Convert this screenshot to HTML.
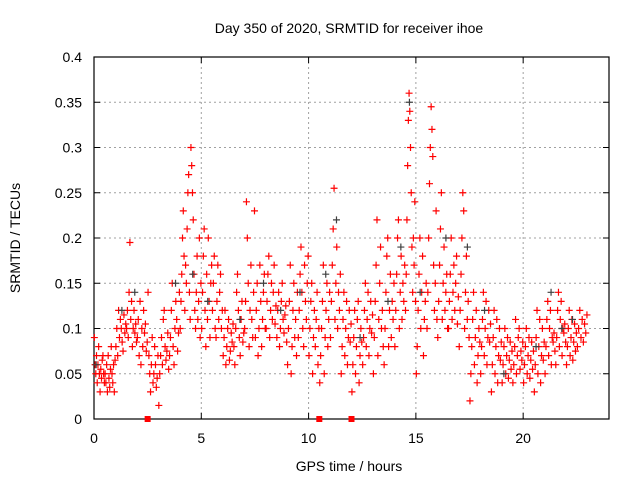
<!DOCTYPE html>
<html><head><meta charset="utf-8">
<style>
body{margin:0;background:#fff;}
svg{display:block;font-family:"Liberation Sans",sans-serif;}
</style></head>
<body>
<svg id="chart" width="640" height="480" viewBox="0 0 640 480">
<g id="grid"></g>
<g id="axes"></g>
<g id="marks"></g>
<text x="349" y="33" font-size="14" text-anchor="middle" fill="#000">Day 350 of 2020, SRMTID for receiver ihoe</text>
<text x="349" y="471" font-size="14" text-anchor="middle" fill="#000">GPS time / hours</text>
<text transform="translate(20,238) rotate(-90)" font-size="14" text-anchor="middle" fill="#000">SRMTID / TECUs</text>
</svg>
<script>
const xTicks=[0,5,10,15,20];
const yTicks=[0,0.05,0.1,0.15,0.2,0.25,0.3,0.35,0.4];
const yTickLabels=["0","0.05","0.1","0.15","0.2","0.25","0.3","0.35","0.4"];
const binStarts=[0,0.5,1,1.5,2,2.5,3,3.5,4,4.5,5,5.5,6,6.5,7,7.5,8,8.5,9,9.5,10,10.5,11,11.5,12,12.5,13,13.5,14,14.5,15,15.5,16,16.5,17,17.5,18,18.5,19,19.5,20,20.5,21,21.5,22,22.5];
const redVals=[
[0.09,0.06,0.05,0.07,0.04,0.06,0.08,0.05,0.03,0.055,0.045,0.065,0.07,0.05,0.04],
[0.05,0.04,0.06,0.03,0.07,0.045,0.035,0.055,0.08,0.05,0.04,0.06,0.03,0.065],
[0.08,0.1,0.07,0.12,0.09,0.11,0.1,0.085,0.075,0.115,0.095,0.105],
[0.1,0.12,0.09,0.14,0.195,0.11,0.13,0.08,0.1,0.12,0.095,0.105,0.085],
[0.09,0.11,0.07,0.13,0.06,0.1,0.08,0.12,0.095,0.105,0.075,0.085],
[0.14,0.07,0.05,0.03,0.06,0.09,0.04,0.05,0.08,0.06,0.035,0.045,0.07],
[0.015,0.05,0.07,0.09,0.06,0.11,0.12,0.08,0.065,0.075,0.095,0.055],
[0.07,0.09,0.12,0.15,0.08,0.06,0.1,0.13,0.11,0.075,0.095,0.14],
[0.1,0.13,0.16,0.2,0.23,0.18,0.12,0.17,0.15,0.21,0.25,0.27,0.14,0.11],
[0.3,0.28,0.25,0.22,0.16,0.12,0.1,0.14,0.18,0.11,0.13,0.2,0.09,0.15],
[0.1,0.14,0.18,0.21,0.12,0.08,0.16,0.11,0.2,0.13,0.09,0.15,0.17],
[0.12,0.15,0.18,0.1,0.09,0.13,0.17,0.11,0.14,0.16,0.1,0.12],
[0.07,0.09,0.12,0.06,0.08,0.1,0.11,0.065,0.075,0.095,0.085,0.105],
[0.08,0.06,0.1,0.14,0.16,0.12,0.09,0.07,0.11,0.13,0.085,0.095],
[0.1,0.13,0.24,0.2,0.15,0.08,0.12,0.17,0.11,0.09,0.14,0.23],
[0.09,0.12,0.15,0.07,0.1,0.17,0.13,0.08,0.11,0.14,0.16,0.1],
[0.1,0.13,0.16,0.18,0.09,0.12,0.15,0.11,0.14,0.17,0.105,0.125],
[0.09,0.12,0.14,0.08,0.1,0.13,0.15,0.11,0.095,0.115,0.125,0.085],
[0.06,0.1,0.13,0.17,0.05,0.08,0.12,0.15,0.09,0.11,0.07,0.14],
[0.09,0.12,0.16,0.19,0.14,0.1,0.08,0.17,0.13,0.11,0.15,0.18],
[0.07,0.1,0.13,0.15,0.05,0.09,0.12,0.08,0.11,0.14,0.06,0.1],
[0.04,0.07,0.1,0.13,0.17,0.05,0.09,0.12,0.15,0.08,0.11,0.14],
[0.09,0.13,0.17,0.21,0.255,0.11,0.15,0.19,0.1,0.14,0.12,0.16],
[0.05,0.08,0.11,0.14,0.07,0.1,0.13,0.06,0.09,0.12,0.085,0.105],
[0.03,0.06,0.09,0.12,0.05,0.08,0.11,0.13,0.04,0.07,0.1,0.085],
[0.06,0.09,0.12,0.15,0.08,0.11,0.14,0.07,0.1,0.13,0.095,0.115],
[0.05,0.09,0.13,0.17,0.22,0.07,0.11,0.15,0.19,0.1,0.12,0.08],
[0.06,0.1,0.14,0.18,0.2,0.08,0.12,0.16,0.09,0.13,0.11,0.15],
[0.08,0.12,0.16,0.2,0.22,0.1,0.14,0.18,0.11,0.15,0.13,0.17],
[0.12,0.16,0.22,0.28,0.33,0.36,0.34,0.3,0.25,0.19,0.14,0.2,0.17,0.24,0.13],
[0.05,0.08,0.12,0.16,0.2,0.1,0.14,0.18,0.07,0.11,0.13,0.15],
[0.1,0.14,0.2,0.26,0.3,0.345,0.32,0.29,0.17,0.12,0.15,0.23,0.11],
[0.09,0.13,0.17,0.21,0.25,0.11,0.15,0.19,0.12,0.14,0.16,0.1],
[0.1,0.13,0.16,0.2,0.11,0.14,0.17,0.12,0.15,0.18,0.105,0.135],
[0.08,0.12,0.16,0.2,0.25,0.23,0.1,0.14,0.18,0.11,0.13,0.09],
[0.02,0.05,0.08,0.11,0.14,0.06,0.09,0.12,0.04,0.07,0.1,0.085],
[0.05,0.08,0.11,0.14,0.07,0.1,0.13,0.06,0.09,0.12,0.085,0.105],
[0.03,0.06,0.09,0.12,0.05,0.08,0.11,0.04,0.07,0.1,0.065,0.085],
[0.04,0.06,0.08,0.1,0.05,0.07,0.09,0.045,0.065,0.085,0.055,0.075],
[0.04,0.06,0.08,0.11,0.05,0.07,0.09,0.1,0.055,0.075,0.065,0.085],
[0.04,0.06,0.08,0.1,0.05,0.07,0.09,0.045,0.065,0.085,0.055,0.075],
[0.03,0.06,0.09,0.12,0.05,0.08,0.11,0.04,0.07,0.1,0.065,0.085],
[0.05,0.08,0.11,0.13,0.07,0.1,0.12,0.06,0.09,0.085,0.095,0.075],
[0.06,0.09,0.12,0.14,0.08,0.11,0.13,0.07,0.1,0.095,0.105,0.085],
[0.06,0.08,0.1,0.12,0.07,0.09,0.11,0.065,0.085,0.105,0.075,0.095],
[0.08,0.1,0.12,0.09,0.11,0.085,0.105,0.095,0.115]
];
const greyTimes=[0.1,1.3,1.9,3.8,4.6,5.3,6.8,7.9,8.7,9.6,10.8,11.3,12.4,13.7,14.3,14.7,15.2,16.4,17.4,18.2,19.1,20.6,21.3,21.8,22.3];
const greyVals=[0.06,0.12,0.14,0.15,0.16,0.13,0.11,0.15,0.12,0.14,0.16,0.22,0.09,0.13,0.19,0.35,0.14,0.2,0.19,0.12,0.05,0.08,0.14,0.1,0.11];
const flagTimes=[2.5,10.5,12];

const L=94,R=609,T=57,B=419,XMAX=24,YMAX=0.4;
const xs=t=>L+(R-L)*t/XMAX;
const ys=v=>B-(B-T)*v/YMAX;
const NS="http://www.w3.org/2000/svg";
function mk(tag,attrs,parent){const e=document.createElementNS(NS,tag);for(const k in attrs)e.setAttribute(k,attrs[k]);parent.appendChild(e);return e;}
const grid=document.getElementById('grid'),axes=document.getElementById('axes'),marks=document.getElementById('marks');

xTicks.forEach((t,i)=>{
  const x=xs(t);
  if(t>0){const g=mk('line',{x1:x,x2:x,y1:T,y2:B,stroke:'#a0a0a0','stroke-dasharray':'2,3'},grid);
  
  }
  mk('line',{x1:x,x2:x,y1:B,y2:B-6,stroke:'#000'},axes);
  mk('line',{x1:x,x2:x,y1:T,y2:T+6,stroke:'#000'},axes);
  const lb=mk('text',{x:x,y:B+24,'font-size':14,'text-anchor':'middle'},axes);
  lb.textContent=t;
  
  
});
yTicks.forEach((v,i)=>{
  const y=ys(v);
  if(v>0&&v<YMAX){const g=mk('line',{x1:L,x2:R,y1:y,y2:y,stroke:'#a0a0a0','stroke-dasharray':'2,3'},grid);
  
  }
  mk('line',{x1:L,x2:L+6,y1:y,y2:y,stroke:'#000'},axes);
  mk('line',{x1:R,x2:R-6,y1:y,y2:y,stroke:'#000'},axes);
  const lb=mk('text',{x:L-12,y:y+5,'font-size':14,'text-anchor':'end'},axes);
  lb.textContent=yTickLabels[i];
  
  
});
const frame=mk('rect',{x:L,y:T,width:R-L,height:B-T,fill:'none',stroke:'#000','stroke-width':1.2},axes);



function plus(t,v,color){
  const x=xs(t),y=ys(v);
  const p=mk('path',{d:`M${x-3.5} ${y}h7M${x} ${y-3.5}v7`,stroke:color,'stroke-width':1.2,fill:'none'},marks);
  return p;
}
binStarts.forEach((b,i)=>{
  const arr=redVals[i];
  arr.forEach((v,j)=>{
    const p=plus(b+0.5*(j+0.5)/arr.length,v,'#ff0000');
    
    
  });
});
greyTimes.forEach((t,i)=>{
  const p=plus(t,greyVals[i],'#404040');
  
  
});
flagTimes.forEach(t=>{
  const r=mk('rect',{x:xs(t)-3,y:B-3,width:6,height:6,fill:'#ff0000'},marks);
  
  
});
</script>
</body></html>
